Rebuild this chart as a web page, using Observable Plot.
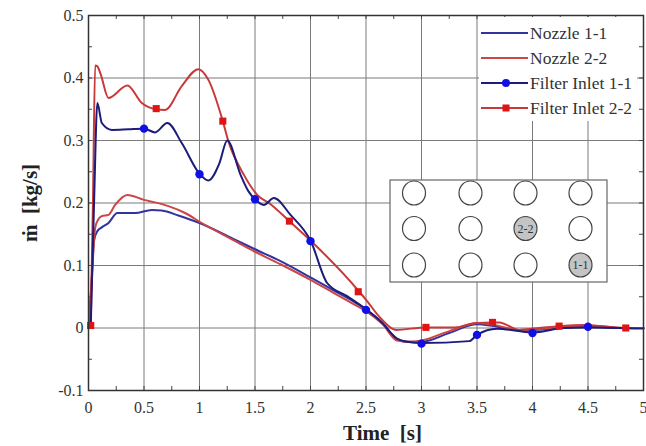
<!DOCTYPE html>
<html>
<head>
<meta charset="utf-8">
<script src="https://cdn.jsdelivr.net/npm/d3@7"></script>
<script src="https://cdn.jsdelivr.net/npm/@observablehq/plot@0.6"></script>
<style>
  html, body { margin: 0; padding: 0; background: #fff; }
  #chart { position: relative; width: 646px; height: 446px; }
  #chart svg text { font-family: 'Liberation Serif', 'Times New Roman', 'DejaVu Serif', serif; }
</style>
</head>
<body>
<div id="chart"></div>
<script>
// ---- data (time [s], mass flow [kg/s]) ----
const nozzle11 = [
  [0,0],[0.02,0.05],[0.05,0.14],[0.08,0.155],[0.12,0.161],[0.18,0.168],[0.26,0.184],[0.42,0.184],
  [0.57,0.189],[0.66,0.188],[0.81,0.180],[1.0,0.168],[1.3,0.143],[1.5,0.126],[1.73,0.107],[2.0,0.081],
  [2.2,0.061],[2.4,0.041],[2.5,0.030],[2.65,0.008],[2.78,-0.018],[2.85,-0.022],[3.0,-0.022],
  [3.25,-0.008],[3.5,0.006],[3.65,0.003],[3.88,-0.004],[4.25,0.0],[4.5,0.003],[4.75,0.0],[5,0]
];
const nozzle22 = [
  [0,0],[0.03,0.08],[0.06,0.16],[0.08,0.171],[0.12,0.179],[0.18,0.181],[0.24,0.197],[0.35,0.213],
  [0.5,0.205],[0.6,0.201],[0.72,0.195],[0.87,0.184],[1.02,0.168],[1.3,0.141],[1.5,0.122],[1.73,0.102],
  [2.0,0.077],[2.2,0.057],[2.4,0.037],[2.5,0.027],[2.65,0.006],[2.78,-0.02],[2.9,-0.022],[3.0,-0.02],
  [3.25,-0.005],[3.5,0.008],[3.65,0.005],[3.88,-0.003],[4.25,0.001],[4.5,0.004],[4.75,0.001],[5,0]
];
const filter11 = [
  [0.02,0.0],[0.05,0.2],[0.08,0.36],[0.12,0.328],[0.21,0.317],[0.36,0.318],[0.5,0.319],[0.6,0.313],
  [0.71,0.328],[0.84,0.296],[1.0,0.247],[1.08,0.236],[1.18,0.264],[1.25,0.300],[1.37,0.245],
  [1.44,0.219],[1.5,0.206],[1.58,0.197],[1.67,0.208],[1.82,0.181],[2.0,0.14],[2.15,0.072],
  [2.33,0.051],[2.5,0.03],[2.63,0.011],[2.78,-0.017],[2.87,-0.022],[3.0,-0.024],[3.43,-0.021],
  [3.5,-0.011],[3.68,-0.001],[4.0,-0.007],[4.28,0.0],[4.5,0.001],[5,-0.001]
];
const filter22 = [
  [0.02,0.004],[0.04,0.2],[0.06,0.42],[0.078,0.419],[0.108,0.407],[0.18,0.368],[0.35,0.388],
  [0.48,0.36],[0.61,0.35],[0.69,0.349],[0.84,0.387],[0.99,0.414],[1.08,0.397],[1.21,0.331],
  [1.26,0.299],[1.40,0.245],[1.52,0.213],[1.64,0.198],[1.81,0.171],[2.0,0.14],[2.44,0.058],
  [2.51,0.043],[2.63,0.016],[2.77,-0.003],[3.04,0.001],[3.3,0.001],[3.5,0.008],[3.64,0.009],
  [3.7,0.009],[3.88,-0.003],[3.95,-0.002],[4.24,0.003],[4.46,0.005],[4.84,0.0],[5,0]
];
const filter11Markers = [
  [0.5,0.319],[1.0,0.246],[1.5,0.206],[2.0,0.139],[2.5,0.029],[3.0,-0.025],[3.5,-0.011],[4.0,-0.008],[4.5,0.002]
];
const filter22Markers = [
  [0.02,0.004],[0.61,0.351],[1.21,0.331],[1.81,0.171],[2.43,0.058],[3.04,0.001],[3.64,0.009],[4.24,0.003],[4.84,0.0]
];
const seriesNames = ["Nozzle 1-1", "Nozzle 2-2", "Filter Inlet 1-1", "Filter Inlet 2-2"];
const xTicks = [0,0.5,1,1.5,2,2.5,3,3.5,4,4.5,5];
const yTicks = [-0.1,0,0.1,0.2,0.3,0.4,0.5];
const xMinor = d3.range(0, 5.001, 0.25).map(d => +d.toFixed(2));
const yMinor = d3.range(-0.1, 0.5001, 0.05).map(d => +d.toFixed(2));
const insetLabels = [["", "", "", ""], ["", "", "2-2", ""], ["", "", "", "1-1"]];

// ---- styling ----
const colNozzle11 = "#3333a0", colNozzle22 = "#cc4646", colFilter11 = "#1c1c7a", colFilter22 = "#c83a3a";
const colDot11 = "#1010e6", colSq22 = "#e01414";
const W = 646, H = 446, mL = 88, mR = 3, mT = 15, mB = 56;
const innerW = W - mL - mR, innerH = H - mT - mB;
const serif = "'Liberation Serif', 'Times New Roman', 'DejaVu Serif', serif";
const fmt = d => String(+d.toFixed(2));

const P = d => d[0], Q = d => d[1];
const svg = Plot.plot({
  width: W, height: H,
  marginLeft: mL, marginRight: mR, marginTop: mT, marginBottom: mB,
  style: {fontFamily: serif, background: "#fff", color: "#333"},
  x: {domain: [0, 5], label: null},
  y: {domain: [-0.1, 0.5], label: null},
  marks: [
    Plot.gridX(xTicks, {stroke: "#7a7a7a", strokeOpacity: 1, strokeWidth: 1}),
    Plot.gridY(yTicks, {stroke: "#7a7a7a", strokeOpacity: 1, strokeWidth: 1}),
    Plot.tickX(xMinor, {x: d => d, insetTop: innerH - 4, stroke: "#444"}),
    Plot.tickX(xMinor, {x: d => d, insetBottom: innerH - 4, stroke: "#444"}),
    Plot.tickY(yMinor, {y: d => d, insetRight: innerW - 4, stroke: "#444"}),
    Plot.tickY(yMinor, {y: d => d, insetLeft: innerW - 4, stroke: "#444"}),
    Plot.line(nozzle11, {x: P, y: Q, stroke: colNozzle11, strokeWidth: 2, curve: "monotone-x"}),
    Plot.line(nozzle22, {x: P, y: Q, stroke: colNozzle22, strokeWidth: 2, curve: "monotone-x"}),
    Plot.line(filter22, {x: P, y: Q, stroke: colFilter22, strokeWidth: 2, curve: "monotone-x"}),
    Plot.line(filter11, {x: P, y: Q, stroke: colFilter11, strokeWidth: 2, curve: "monotone-x"}),
    Plot.dot(filter11Markers, {x: P, y: Q, r: 4.2, fill: colDot11, stroke: "none"}),
    Plot.dot(filter22Markers, {x: P, y: Q, r: 4, symbol: "square", fill: colSq22, stroke: "none"}),
    Plot.frame({stroke: "#333", strokeWidth: 1.5}),
    Plot.axisX(xTicks, {tickSize: 0, tickPadding: 11, fontSize: 16, fontFamily: serif, tickFormat: fmt, label: null, fill: "#333"}),
    Plot.axisY(yTicks, {tickSize: 0, tickPadding: 5, fontSize: 16, fontFamily: serif, tickFormat: fmt, label: null, fill: "#333"})
  ]
});
document.getElementById("chart").appendChild(svg);

// ---- overlay: legend, inset, axis titles ----
const g = d3.select(svg).append("g").attr("font-family", serif).attr("text-anchor", "start");

// legend
const lg = g.append("g");
lg.append("rect").attr("x", 479).attr("y", 17).attr("width", 158).attr("height", 104).attr("fill", "#fff");
const legendRows = [
  {name: seriesNames[0], stroke: colNozzle11, mark: null},
  {name: seriesNames[1], stroke: colNozzle22, mark: null},
  {name: seriesNames[2], stroke: colFilter11, mark: "circle", fill: colDot11},
  {name: seriesNames[3], stroke: colFilter22, mark: "square", fill: colSq22}
];
legendRows.forEach((r, i) => {
  const y = 33 + i * 25;
  lg.append("line").attr("x1", 481).attr("x2", 528).attr("y1", y).attr("y2", y)
    .attr("stroke", r.stroke).attr("stroke-width", 2);
  if (r.mark === "circle") lg.append("circle").attr("cx", 506).attr("cy", y).attr("r", 4).attr("fill", r.fill);
  if (r.mark === "square") lg.append("rect").attr("x", 502.5).attr("y", y - 3.5).attr("width", 7).attr("height", 7).attr("fill", r.fill);
  lg.append("text").attr("x", 530).attr("y", y).attr("dy", "0.32em").attr("font-size", 17.5)
    .attr("text-anchor", "start").attr("fill", "#333").text(r.name);
});

// inset nozzle layout
const ig = g.append("g");
ig.append("rect").attr("x", 390).attr("y", 180).attr("width", 217).attr("height", 102)
  .attr("fill", "#fff").attr("stroke", "#666").attr("stroke-width", 1.2);
const colX = [414, 470.5, 525.5, 580.5], rowY = [193, 228.5, 265];
insetLabels.forEach((row, ri) => row.forEach((lab, ci) => {
  ig.append("ellipse").attr("cx", colX[ci]).attr("cy", rowY[ri]).attr("rx", 11.5).attr("ry", 12)
    .attr("fill", lab ? "#c4c4c4" : "#fff").attr("stroke", "#444").attr("stroke-width", 1.2);
  if (lab) ig.append("text").attr("x", colX[ci]).attr("y", rowY[ri]).attr("dy", "0.35em")
    .attr("text-anchor", "middle").attr("font-size", 12).attr("fill", "#333").text(lab);
}));

// axis titles
g.append("text").attr("x", 343).attr("y", 440).attr("font-size", 21).attr("font-weight", "bold")
  .attr("text-anchor", "start").attr("fill", "#222").text("Time\u00A0\u00A0[s]");
g.append("text").attr("transform", "translate(37,203) rotate(-90)").attr("text-anchor", "middle")
  .attr("font-size", 21).attr("font-weight", "bold").attr("fill", "#222").text("\u1E41\u00A0\u00A0[kg/s]");
</script>
</body>
</html>
